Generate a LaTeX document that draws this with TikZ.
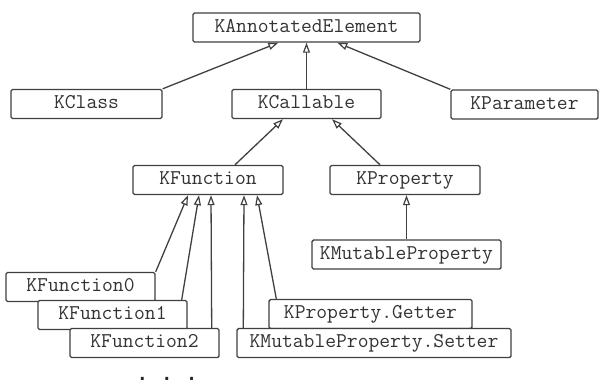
\documentclass[tikz,border=0pt]{standalone}
\usepackage{fontspec}
\newfontfamily\dotsfont{DejaVu Sans Mono}
\usetikzlibrary{arrows.meta}

\tikzset{
    cls/.style={draw=black!75, fill=white, line width=1.4pt, rounded corners=1.5pt,
        minimum height=29pt, inner xsep=4pt, text height=13pt, text depth=4pt,
        text=black!80, font=\ttfamily\fontsize{21}{23}\selectfont},
    inherit/.style={draw=black!75, line width=1.3pt,
        -{Triangle[open, length=10pt, width=7pt, line width=1.2pt]}}
}

\begin{document}
\begin{tikzpicture}[x=1pt, y=-1pt]
        %frame
            \useasboundingbox (0,0) rectangle (599,383);
        %nodes
            \node[cls, minimum width=227pt] (kae) at (306.5,27.5) {KAnnotatedElement};
            \node[cls, minimum width=151pt] (kclass) at (86.5,104) {KClass};
            \node[cls, minimum width=149pt] (kcallable) at (306.5,104) {KCallable};
            \node[cls, minimum width=147pt] (kparam) at (524.5,104.5) {KParameter};
            \node[cls, minimum width=150pt] (kfunc) at (208,180) {KFunction};
            \node[cls, minimum width=150pt] (kprop) at (405,180) {KProperty};
            \node[cls, minimum width=189pt] (kmutprop) at (406.5,254.5) {KMutableProperty};
                \node[cls, minimum width=149pt] (kfunc0) at (80.5,287) {KFunction0};
                \node[cls, minimum width=149pt] (kfunc1) at (112.5,315) {KFunction1};
                \node[cls, minimum width=149pt] (kfunc2) at (144.5,343) {KFunction2};
                \node[cls, minimum width=203pt] (kgetter) at (370.5,314) {KProperty.Getter};
                \node[cls, minimum width=274pt] (ksetter) at (374,343) {KMutableProperty.Setter};
            \node[anchor=base, inner sep=0pt, text=black!85, font=\dotsfont\bfseries\fontsize{17.5}{19}\selectfont] (more) at (167,380) {. . .};
        % arrows
            \draw[inherit] (kclass.north east) -- ([xshift=86pt]kae.south west);
            \draw[inherit] (kcallable.north) -- (kae.south);
            \draw[inherit] (kparam.north west) -- ([xshift=145pt]kae.south west);
            \draw[inherit] ([xshift=27pt]kfunc.north) -- ([xshift=-23.5pt]kcallable.south);
            \draw[inherit] ([xshift=-25pt]kprop.north) -- ([xshift=25.5pt]kcallable.south);
            \draw[inherit] (kmutprop.north) -- (kmutprop.north |- kprop.south);
                \draw[inherit] (kfunc0.north east) -- ([xshift=-20pt]kfunc.south);
                \draw[inherit] ([xshift=-6pt]kfunc1.north east) -- ([xshift=-9pt]kfunc.south);
                \draw[inherit] ([xshift=-8pt]kfunc2.north east) -- ([xshift=3pt]kfunc.south);
                \draw[inherit] ([xshift=7pt]ksetter.north west) -- ([xshift=36pt]kfunc.south);
                \draw[inherit] ([xshift=8pt]kgetter.north west) -- ([xshift=49pt]kfunc.south);
    \end{tikzpicture}
\end{document}
